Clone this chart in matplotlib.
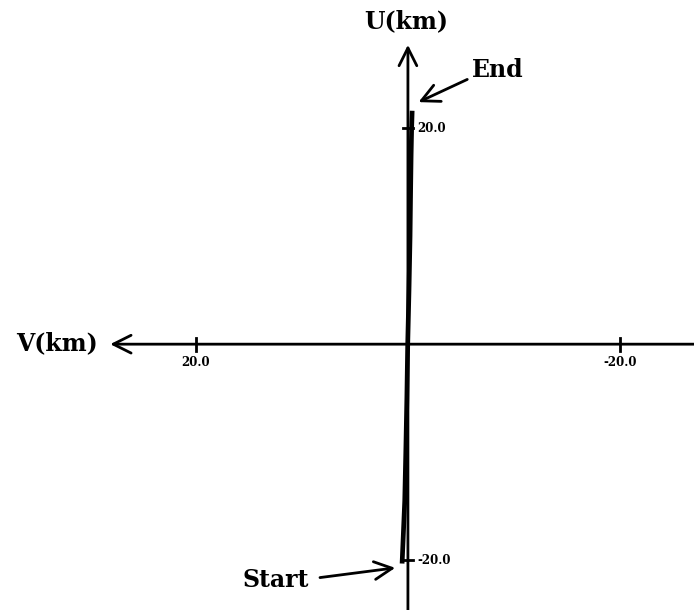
import matplotlib
matplotlib.use('Agg')
import matplotlib.pyplot as plt

# 轨迹数据 (km)：V 向左为正
track_v = [0.55, 0.45, 0.30, 0.20, 0.10, 0.02, -0.10, -0.20, -0.25, -0.30, -0.35, -0.40]
track_u = [-20.3, -18.0, -14.5, -10.0, -5.0, 0.0, 5.0, 10.0, 14.0, 17.5, 20.0, 21.6]
tick_vals = [20.0, -20.0]
tick_labels = ['20.0', '-20.0']

font = {'family': ['DejaVu Serif'], 'weight': 'bold'}

fig = plt.figure(figsize=(6.94, 6.10), dpi=100)
ax = fig.add_axes([0, 0, 1, 1])
ax.set_xlim(38.5, -27.0)
ax.set_ylim(-24.6, 31.85)
ax.axis('off')

arrow = dict(arrowstyle='->', lw=2.0, color='black', mutation_scale=32, shrinkA=0, shrinkB=0)
# 坐标轴
ax.annotate('', xy=(28.1, 0), xytext=(-27.0, 0), arrowprops=arrow)
ax.annotate('', xy=(0, 27.7), xytext=(0, -24.6), arrowprops=arrow)

# 刻度
for v, lab in zip(tick_vals, tick_labels):
    ax.plot([v, v], [-0.6, 0.6], color='black', lw=2.0)
    ax.text(v, -1.1, lab, ha='center', va='top', fontsize=8.5, **font)
for u, lab in zip(tick_vals, tick_labels):
    ax.plot([0.5, -0.5], [u, u], color='black', lw=2.0)
    ax.text(-0.9, u, lab, ha='left', va='center', fontsize=8.5, **font)

# 轨迹
ax.plot(track_v, track_u, color='black', lw=3.4, solid_capstyle='butt')

ax.text(0.2, 29.9, 'U(km)', ha='center', va='center', fontsize=17, **font)
ax.text(33.1, 0.1, 'V(km)', ha='center', va='center', fontsize=17, **font)
ax.text(-8.5, 25.4, 'End', ha='center', va='center', fontsize=17, **font)
ax.text(12.5, -21.8, 'Start', ha='center', va='center', fontsize=17, **font)

ax.annotate('', xy=(-1.0, 22.4), xytext=(-5.6, 24.5), arrowprops=arrow)
ax.annotate('', xy=(1.2, -20.7), xytext=(8.3, -21.6), arrowprops=arrow)

fig.savefig('out.png', dpi=100)
